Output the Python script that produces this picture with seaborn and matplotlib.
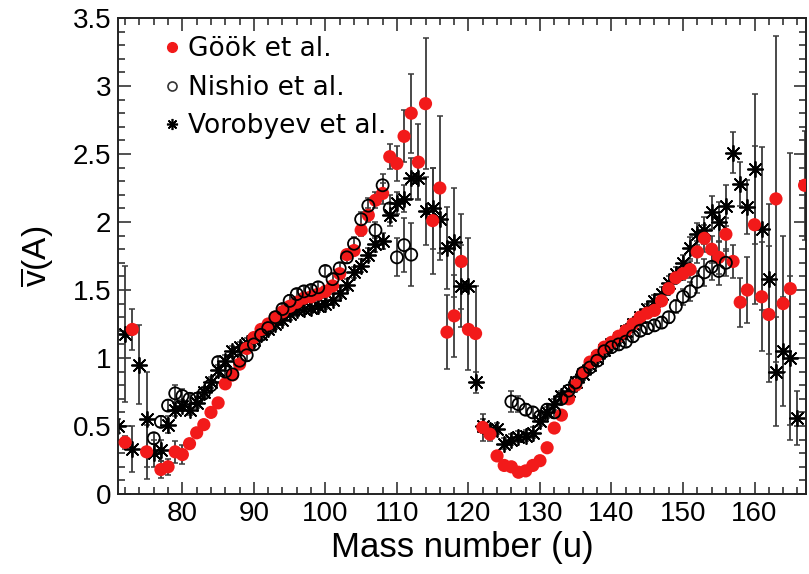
import matplotlib
matplotlib.use("Agg")
import matplotlib.pyplot as plt
import numpy as np
import pandas as pd
import seaborn as sns
from matplotlib.ticker import MultipleLocator, FuncFormatter
from matplotlib.lines import Line2D

# ---------------- data ----------------
gook_mass = [72, 73, 75, 77, 78, 79, 80, 81, 82, 83, 84, 85, 86, 87, 88, 89, 90,
             91, 92, 93, 94, 95, 96, 97, 98, 99, 100, 101, 102, 103, 104, 105, 106,
             107, 108, 109, 110, 111, 112, 113, 114, 115, 116, 117, 118, 119, 120,
             121, 122, 123, 124, 125, 126, 127, 128, 129, 130, 131, 132, 133, 134,
             135, 136, 137, 138, 139, 140, 141, 142, 143, 144, 145, 146, 147, 148,
             149, 150, 151, 152, 153, 154, 155, 156, 157, 158, 159, 160, 161, 162,
             163, 164, 165, 167]
gook_nu = [0.38, 1.21, 0.31, 0.18, 0.20, 0.31, 0.29, 0.37, 0.45, 0.51, 0.60, 0.67,
           0.81, 0.875, 0.955, 1.07, 1.15, 1.21, 1.25, 1.30, 1.34, 1.38, 1.41, 1.44,
           1.45, 1.47, 1.49, 1.53, 1.62, 1.76, 1.79, 1.94, 2.05, 2.16, 2.21, 2.48,
           2.43, 2.63, 2.80, 2.44, 2.87, 2.01, 2.25, 1.19, 1.31, 1.71, 1.21, 1.18,
           0.49, 0.44, 0.28, 0.21, 0.20, 0.16, 0.17, 0.21, 0.245, 0.34, 0.485, 0.58,
           0.70, 0.80, 0.89, 0.97, 1.02, 1.08, 1.115, 1.16, 1.20, 1.25, 1.30, 1.33,
           1.35, 1.42, 1.51, 1.59, 1.62, 1.65, 1.78, 1.88, 1.80, 1.74, 1.91, 1.71,
           1.41, 1.50, 1.98, 1.45, 1.32, 2.17, 1.40, 1.51, 2.27]
gook_err = [0.05, 0.15, 0.20, 0.06, 0.06, 0.08, 0.07, 0.03, 0.03, 0.03, 0.03, 0.03,
            0.03, 0.03, 0.03, 0.03, 0.03, 0.03, 0.03, 0.03, 0.03, 0.03, 0.03, 0.03,
            0.03, 0.03, 0.03, 0.03, 0.03, 0.03, 0.03, 0.04, 0.05, 0.06, 0.08, 0.09,
            0.13, 0.19, 0.29, 0.28, 0.48, 0.39, 0.53, 0.27, 0.30, 0.35, 0.30, 0.35,
            0.10, 0.05, 0.03, 0.03, 0.03, 0.03, 0.03, 0.03, 0.03, 0.03, 0.03, 0.03,
            0.03, 0.03, 0.03, 0.03, 0.03, 0.03, 0.03, 0.03, 0.03, 0.03, 0.03, 0.03,
            0.03, 0.03, 0.03, 0.04, 0.05, 0.06, 0.08, 0.10, 0.10, 0.12, 0.12, 0.12,
            0.18, 0.24, 0.58, 0.40, 0.50, 1.20, 0.50, 1.00, 0.40]

nishio_mass = [76, 77, 78, 79, 80, 81, 82, 83, 84, 85, 86, 87, 88, 89, 90, 91, 92,
               93, 94, 95, 96, 97, 98, 99, 100, 101, 102, 103, 104, 105, 106, 107,
               108, 109, 110, 111, 112, 126, 127, 128, 129, 130, 131, 132, 133, 134,
               135, 136, 137, 138, 139, 140, 141, 142, 143, 144, 145, 146, 147, 148,
               149, 150, 151, 152, 153, 154, 155, 156]
nishio_nu = [0.41, 0.53, 0.65, 0.74, 0.72, 0.70, 0.70, 0.74, 0.80, 0.97, 0.90, 0.88,
             0.98, 1.02, 1.10, 1.17, 1.22, 1.30, 1.36, 1.42, 1.47, 1.49, 1.50, 1.52,
             1.64, 1.58, 1.66, 1.74, 1.84, 2.02, 2.12, 1.94, 2.27, 2.10, 1.74, 1.83,
             1.76, 0.68, 0.66, 0.62, 0.60, 0.57, 0.62, 0.60, 0.70, 0.76, 0.82, 0.89,
             0.93, 0.98, 1.05, 1.08, 1.10, 1.12, 1.16, 1.20, 1.22, 1.24, 1.26, 1.30,
             1.38, 1.45, 1.49, 1.56, 1.63, 1.67, 1.64, 1.70]
nishio_err = [0.04, 0.04, 0.04, 0.06, 0.05, 0.04, 0.04, 0.04, 0.04, 0.04, 0.04, 0.04,
              0.04, 0.04, 0.04, 0.04, 0.04, 0.04, 0.04, 0.04, 0.04, 0.04, 0.04, 0.04,
              0.04, 0.04, 0.04, 0.04, 0.05, 0.05, 0.06, 0.06, 0.08, 0.10, 0.14, 0.20,
              0.23, 0.08, 0.06, 0.04, 0.04, 0.04, 0.04, 0.04, 0.04, 0.04, 0.04, 0.04,
              0.04, 0.04, 0.04, 0.04, 0.04, 0.04, 0.04, 0.04, 0.04, 0.04, 0.04, 0.04,
              0.05, 0.06, 0.07, 0.08, 0.10, 0.10, 0.10, 0.10]

vorob_mass = [71, 72, 73, 74, 75, 76, 77, 78, 79, 80, 81, 82, 83, 84, 85, 86, 87, 88,
              89, 90, 91, 92, 93, 94, 95, 96, 97, 98, 99, 100, 101, 102, 103, 104,
              105, 106, 107, 108, 109, 110, 111, 112, 113, 114, 115, 116, 117, 118,
              119, 120, 121, 122, 123, 124, 125, 126, 127, 128, 129, 130, 131, 132,
              133, 134, 135, 136, 137, 138, 139, 140, 141, 142, 143, 144, 145, 146,
              147, 148, 149, 150, 151, 152, 153, 154, 155, 156, 157, 158, 159, 160,
              161, 162, 163, 164, 165, 166]
vorob_nu = [0.50, 1.18, 0.33, 0.95, 0.55, 0.30, 0.32, 0.51, 0.62, 0.65, 0.62, 0.67,
            0.75, 0.82, 0.91, 0.98, 1.05, 1.08, 1.11, 1.13, 1.18, 1.21, 1.25, 1.28,
            1.32, 1.35, 1.36, 1.37, 1.38, 1.40, 1.43, 1.48, 1.54, 1.63, 1.68, 1.76,
            1.84, 1.86, 2.05, 2.14, 2.17, 2.32, 2.32, 2.08, 2.10, 2.02, 1.81, 1.85,
            1.53, 1.53, 0.82, 0.50, 0.47, 0.48, 0.37, 0.40, 0.42, 0.43, 0.45, 0.54,
            0.60, 0.66, 0.72, 0.76, 0.82, 0.88, 0.95, 1.00, 1.06, 1.10, 1.15, 1.20,
            1.25, 1.30, 1.36, 1.42, 1.47, 1.55, 1.62, 1.70, 1.81, 1.91, 1.94, 2.07,
            2.00, 2.12, 2.51, 2.28, 2.11, 2.39, 1.95, 1.58, 0.90, 1.05, 1.00, 0.56]
vorob_err = [0.05, 0.50, 0.17, 0.29, 0.35, 0.10, 0.08, 0.06, 0.05, 0.04, 0.04, 0.04,
             0.04, 0.04, 0.04, 0.04, 0.04, 0.04, 0.04, 0.04, 0.04, 0.04, 0.04, 0.04,
             0.04, 0.04, 0.04, 0.04, 0.04, 0.04, 0.04, 0.04, 0.04, 0.04, 0.05, 0.05,
             0.06, 0.06, 0.08, 0.08, 0.10, 0.15, 0.15, 0.25, 0.30, 0.25, 0.30, 0.40,
             0.30, 0.35, 0.08, 0.05, 0.04, 0.04, 0.04, 0.04, 0.04, 0.04, 0.04, 0.04,
             0.04, 0.04, 0.04, 0.04, 0.04, 0.04, 0.04, 0.04, 0.04, 0.04, 0.04, 0.04,
             0.04, 0.04, 0.04, 0.04, 0.05, 0.05, 0.05, 0.06, 0.08, 0.08, 0.10, 0.12,
             0.15, 0.15, 0.15, 0.16, 0.20, 0.55, 0.60, 0.55, 0.40, 0.40, 0.60, 0.20]

legend_labels = ["Göök et al.", "Nishio et al.", "Vorobyev et al."]
x_label = "Mass number (u)"
y_label = r"$\overline{\mathrm{v}}\mathrm{(A)}$"

# ---------------- figure ----------------
sns.set_style("ticks")
plt.rcParams["font.family"] = ["Liberation Sans", "DejaVu Sans"]
plt.rcParams["mathtext.fontset"] = "custom"
plt.rcParams["mathtext.rm"] = "Liberation Sans"
plt.rcParams["mathtext.it"] = "Liberation Sans"
for key in ("text.color", "axes.labelcolor", "xtick.color", "ytick.color"):
    plt.rcParams[key] = "black"

df_g = pd.DataFrame({"mass": gook_mass, "nu": gook_nu, "err": gook_err})
df_n = pd.DataFrame({"mass": nishio_mass, "nu": nishio_nu, "err": nishio_err})
df_v = pd.DataFrame({"mass": vorob_mass, "nu": vorob_nu, "err": vorob_err})

fig = plt.figure(figsize=(8.09, 5.74), dpi=100)
ax = fig.add_axes([118 / 809, 1 - 494 / 574, 688 / 809, 476 / 574])

ebar_kw = dict(fmt="none", ecolor="#3a3a3a", elinewidth=1.3, capsize=2.5, capthick=1.1)
for df in (df_v, df_n, df_g):
    ax.errorbar(df["mass"], df["nu"], yerr=df["err"], zorder=1, **ebar_kw)

star = (8, 2, 0)
sns.scatterplot(data=df_v, x="mass", y="nu", marker=star, s=120, color="black",
                linewidth=1.3, ax=ax, zorder=2, legend=False)
sns.scatterplot(data=df_g, x="mass", y="nu", marker="o", s=90, color="#f21a1a",
                edgecolor="none", ax=ax, zorder=3, legend=False)
sns.scatterplot(data=df_n, x="mass", y="nu", marker="o", s=75, facecolor="none",
                edgecolor="black", linewidth=1.3, ax=ax, zorder=4, legend=False)

ax.set_xlim(71, 167.2)
ax.set_ylim(0, 3.5)
ax.xaxis.set_major_locator(MultipleLocator(10))
ax.xaxis.set_minor_locator(MultipleLocator(2))
ax.yaxis.set_major_locator(MultipleLocator(0.5))
ax.yaxis.set_minor_locator(MultipleLocator(0.1))
ax.yaxis.set_major_formatter(FuncFormatter(lambda v, p: f"{v:g}"))
ax.tick_params(which="both", direction="in", top=True, right=True, width=1.1,
               color="#222222")
ax.tick_params(which="major", length=9, labelsize=20, pad=5)
ax.tick_params(which="minor", length=5)
for sp in ax.spines.values():
    sp.set_linewidth(1.4)
    sp.set_color("#222222")

ax.set_xlabel(x_label, fontsize=25, labelpad=3)
ax.set_ylabel(y_label, fontsize=24, labelpad=12)

handles = [
    Line2D([], [], ls="none", marker="o", color="#f21a1a", markersize=7),
    Line2D([], [], ls="none", marker="o", mfc="none", mec="#333333", mew=1.2, markersize=6.5),
    Line2D([], [], ls="none", marker=star, color="black", mew=1.2, markersize=8),
]
ax.legend(handles, legend_labels, loc="upper left", bbox_to_anchor=(0.067, 0.962),
          frameon=False, borderpad=0, borderaxespad=0, handlelength=0.6,
          handletextpad=0.3, labelspacing=0.48,
          prop={"family": "DejaVu Sans", "size": 19})

fig.savefig("out.png", dpi=100)
